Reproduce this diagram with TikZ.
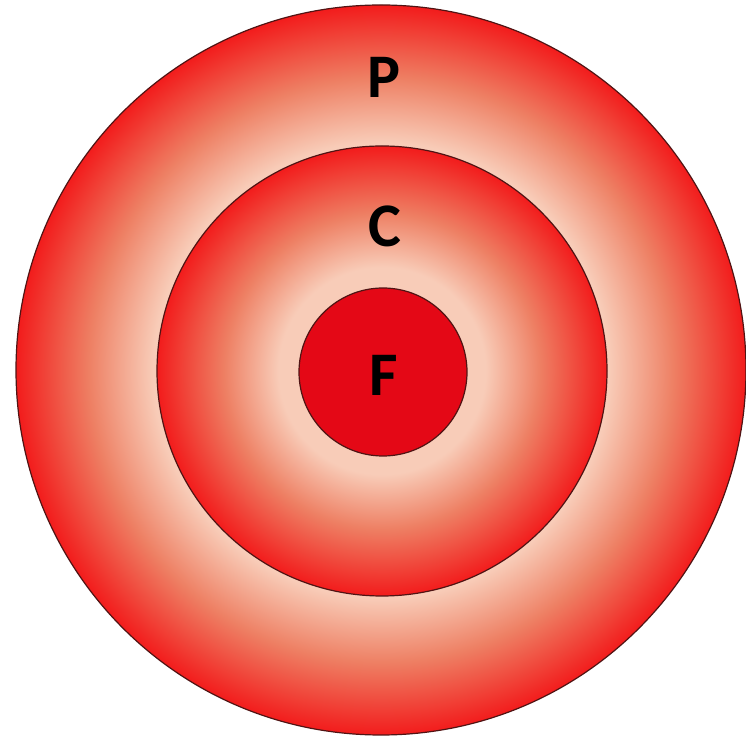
\documentclass[tikz,border=0pt]{standalone}
\usepackage{fontspec}
\setmainfont{Carlito}

\definecolor{pale}{RGB}{248,204,184}
\definecolor{salmon}{RGB}{238,128,100}
\definecolor{ringred}{RGB}{242,28,28}
\definecolor{corered}{RGB}{228,8,22}
\definecolor{rim}{RGB}{80,20,20}

\pgfdeclareradialshading{outerring}{\pgfpoint{0bp}{0bp}}{color(0bp)=(pale); color(15.6bp)=(pale); color(20bp)=(salmon); color(25bp)=(ringred); color(50bp)=(ringred)}
\pgfdeclareradialshading{innerring}{\pgfpoint{0bp}{0bp}}{color(0bp)=(pale); color(11.5bp)=(pale); color(17.5bp)=(salmon); color(25bp)=(ringred); color(50bp)=(ringred)}

\begin{document}
\begin{tikzpicture}[x=1pt, y=1pt,
	ring/.style={circle, draw=rim, line width=1.2pt, inner sep=0pt},
	lbl/.style={font=\bfseries\fontsize{62}{62}\selectfont, text=black, inner sep=0pt}]
	\useasboundingbox (0,0) rectangle (746,741);
	\node[ring, minimum size=730pt, shading=outerring] (outer) at (381,371) {};
	\node[ring, minimum size=450pt, shading=innerring] (middle) at (382,370) {};
	\node[ring, minimum size=168pt, fill=corered] (core) at (383,369) {};
	\node[lbl] (P) at (384,664) {P};
	\node[lbl] (C) at (385,515) {C};
	\node[lbl] (F) at (384,366) {F};
\end{tikzpicture}
\end{document}
